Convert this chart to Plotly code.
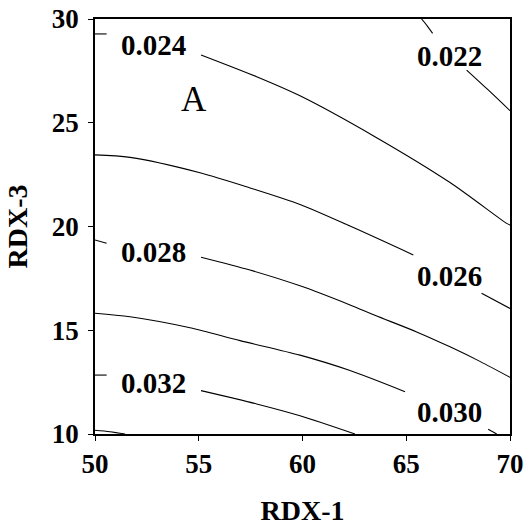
import plotly.graph_objects as go

# Contour levels
levels = ["0.022", "0.024", "0.026", "0.028", "0.030", "0.032", "0.034"]

# Contour line coordinates (None = gap where a label sits)
c022_x = [65.74, 66.0, 66.27, None, 67.91, 68.95, 70.0]
c022_y = [30.0, 29.68, 29.31, None, 27.54, 26.58, 25.58]

c024_x = [50.0, 50.56, None, 55.11, 57.79, 59.88, 63.49, 67.11, 69.84, 70.0]
c024_y = [29.28, 29.28, None, 28.27, 27.22, 26.30, 24.33, 22.12, 20.15, 20.07]

c026_x = [50.0, 51.69, 55.06, 57.47, 59.88, 62.29, 65.34, None, 68.63, 70.0]
c026_y = [23.45, 23.33, 22.59, 21.86, 21.06, 20.02, 18.63, None, 16.78, 16.05]

c028_x = [50.0, 50.56, None, 55.11, 57.47, 59.88, 62.29, 63.49, 65.5, 67.11, 68.55, 70.0]
c028_y = [19.35, 19.19, None, 18.52, 17.90, 17.14, 16.22, 15.72, 14.92, 14.20, 13.50, 12.73]

c030_x = [50.0, 51.69, 54.58, 56.99, 59.88, 62.29, 64.94, None, 68.95, 69.36]
c030_y = [15.82, 15.65, 15.12, 14.50, 13.80, 13.06, 12.04, None, 10.23, 10.0]

c032_x = [50.0, 50.56, None, 55.11, 57.79, 59.88, 62.53]
c032_y = [12.84, 12.84, None, 12.09, 11.45, 10.88, 10.0]

c034_x = [50.0, 50.72, 51.45]
c034_y = [10.18, 10.11, 10.0]

# Contour label positions
label_text = ["0.024", "0.022", "0.028", "0.026", "0.032", "0.030"]
label_x = [52.81, 67.08, 52.81, 67.08, 52.81, 67.08]
label_y = [28.75, 28.2, 18.79, 17.61, 12.44, 11.07]

x_ticks = [50, 55, 60, 65, 70]
y_ticks = [10, 15, 20, 25, 30]

SERIF = "Liberation Serif, Times New Roman, serif"

fig = go.Figure()
series = [
    (levels[0], c022_x, c022_y),
    (levels[1], c024_x, c024_y),
    (levels[2], c026_x, c026_y),
    (levels[3], c028_x, c028_y),
    (levels[4], c030_x, c030_y),
    (levels[5], c032_x, c032_y),
    (levels[6], c034_x, c034_y),
]
for name, xs, ys in series:
    fig.add_trace(go.Scatter(
        x=xs, y=ys, mode="lines", name=name,
        line=dict(color="black", width=1.1, shape="spline", smoothing=0.8),
        connectgaps=False, showlegend=False, hoverinfo="skip",
    ))

for t, lx, ly in zip(label_text, label_x, label_y):
    fig.add_annotation(x=lx, y=ly, text=t, showarrow=False,
                       font=dict(family=SERIF, size=29, color="black", weight="bold"),
                       xanchor="center", yanchor="middle")

fig.add_annotation(x=54.77, y=26.13, text="A", showarrow=False,
                   font=dict(family=SERIF, size=35, color="black"),
                   xanchor="center", yanchor="middle")

axis_common = dict(
    showgrid=False, zeroline=False, showline=True, linecolor="black", linewidth=1.6,
    mirror=True, ticks="outside", ticklen=5, tickwidth=1.3, tickcolor="black",
    tickfont=dict(family=SERIF, size=27, color="black", weight="bold"),
)

fig.update_xaxes(range=[50, 70], tickvals=x_ticks, ticktext=[str(v) for v in x_ticks],
                 title=dict(text="RDX-1", font=dict(family=SERIF, size=28, color="black", weight="bold"),
                            standoff=22),
                 **axis_common)
fig.update_yaxes(range=[10, 30], tickvals=y_ticks, ticktext=[str(v) for v in y_ticks],
                 ticklabelstandoff=4,
                 title=dict(text="RDX-3", font=dict(family=SERIF, size=28, color="black", weight="bold"),
                            standoff=16),
                 **axis_common)

fig.update_layout(
    width=524, height=529,
    margin=dict(l=95, r=14, t=19, b=95, autoexpand=False),
    paper_bgcolor="white", plot_bgcolor="white",
    showlegend=False,
)

fig.write_html("out.html")
